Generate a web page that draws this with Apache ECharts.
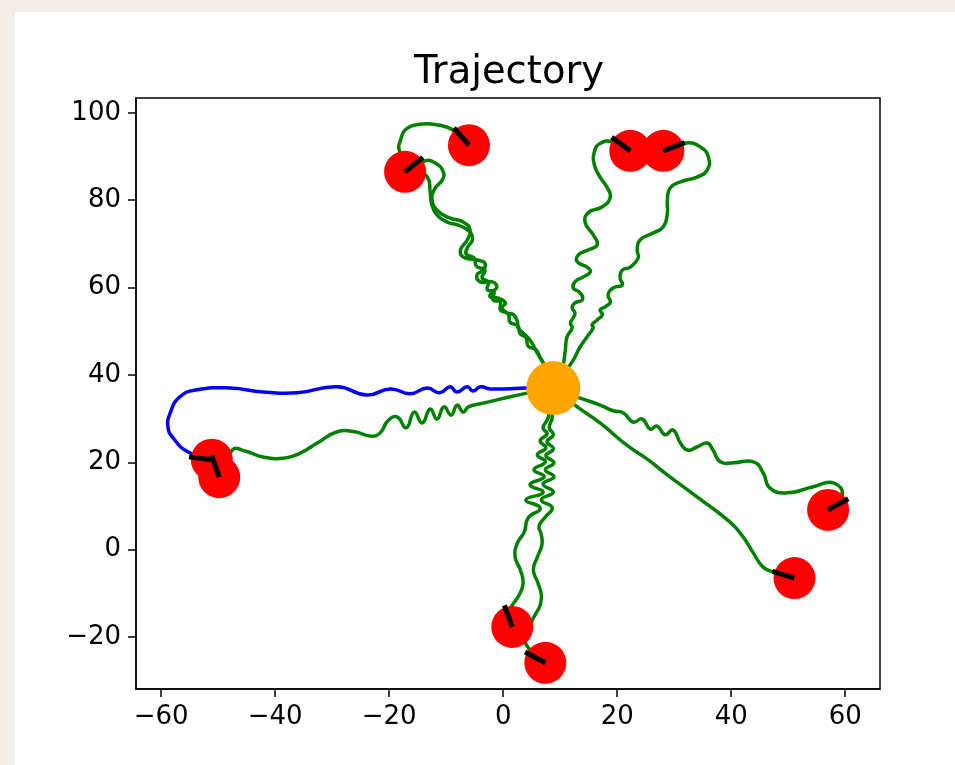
<!DOCTYPE html>
<html>
<head>
<meta charset="utf-8">
<script src="https://cdn.jsdelivr.net/npm/echarts@6/dist/echarts.min.js"></script>
<style>
  html, body { margin: 0; padding: 0; background: #f3efe7; }
  #main { width: 955px; height: 765px; }
</style>
</head>
<body>
<div id="main"></div>
<script>
// axis ticks
const xTicks = [-60, -40, -20, 0, 20, 40, 60];
const yTicks = [-20, 0, 20, 40, 60, 80, 100];

// orange centre and red robots (final positions), heading in degrees
const centre = [8.8, 37.0];
const robots = [
  [-51.1, 20.6], [-49.8, 16.6], [-17.2, 86.5], [-6.0, 92.6], [22.3, 91.3],
  [28.1, 91.3], [57.0, 9.1], [51.1, -6.5], [1.6, -17.7], [7.4, -25.9]
];
const headings = [173, 109, 39, 131, 144, 21, 29, 163, 110, 152];

// blue trajectory
const blueTrack = [
  [8.8, 37.0], [4.2, 37.0], [-2.3, 36.8], [-4.0, 37.3], [-5.3, 36.3], [-6.3, 37.3],
  [-8.1, 36.1], [-9.3, 37.3], [-11.1, 35.9], [-13.3, 37.0], [-16.3, 35.7], [-19.8, 36.8],
  [-23.9, 35.4], [-29.1, 37.3], [-36.1, 35.9], [-42.1, 36.1], [-47.9, 37.0], [-53.7, 36.6],
  [-56.7, 35.0], [-58.4, 31.3], [-58.8, 28.1], [-57.9, 25.6], [-55.3, 22.4], [-51.1, 20.6]
];

// green trajectories
const greenLeft = [
  [8.8, 37.0], [4.4, 35.9], [-1.1, 34.3], [-4.0, 33.4], [-6.1, 32.7], [-7.0, 31.5],
  [-8.1, 33.1], [-9.1, 30.8], [-10.4, 32.7], [-11.6, 29.9], [-12.8, 32.2], [-14.2, 29.0],
  [-15.6, 31.5], [-17.0, 27.9], [-18.6, 30.4], [-20.2, 29.5], [-21.6, 26.7], [-23.3, 26.0],
  [-26.0, 27.0], [-29.1, 27.0], [-32.6, 24.4], [-35.6, 22.1], [-38.2, 21.0], [-42.1, 21.2],
  [-45.3, 22.6], [-47.5, 22.8], [-49.8, 16.6]
];
const greenUpLeftA = [
  [8.8, 37.0], [7.0, 42.8], [6.0, 45.0], [4.7, 48.0], [3.5, 49.6], [2.6, 50.8],
  [2.5, 52.2], [1.8, 53.8], [0.7, 54.2], [-0.2, 55.4], [0.4, 56.5], [-0.9, 57.6],
  [-2.3, 57.9], [-1.9, 59.0], [-1.1, 60.1], [-1.9, 61.3], [-4.0, 61.3], [-4.6, 62.9],
  [-3.5, 64.0], [-3.2, 65.6], [-4.6, 66.3], [-7.0, 67.0], [-7.5, 68.6], [-6.3, 70.9],
  [-5.8, 73.2], [-7.0, 75.0], [-9.3, 75.9], [-11.6, 77.7], [-12.5, 80.5], [-11.9, 82.8],
  [-10.7, 84.6], [-10.5, 86.5], [-11.9, 88.5], [-13.7, 89.0], [-17.2, 86.5]
];
const greenUpLeftB = [
  [8.8, 37.0], [7.5, 41.6], [6.5, 43.9], [5.8, 45.7], [4.4, 46.6], [4.0, 48.5],
  [3.0, 49.4], [2.6, 51.2], [1.2, 52.1], [0.9, 53.9], [-0.5, 54.9], [-0.5, 56.7],
  [-1.8, 57.2], [-1.6, 59.0], [-2.8, 59.5], [-2.6, 61.3], [-3.7, 62.2], [-3.2, 64.0],
  [-4.7, 64.9], [-5.1, 66.8], [-6.5, 67.7], [-6.1, 69.5], [-5.4, 70.9], [-5.8, 72.7],
  [-7.5, 74.1], [-9.8, 75.0], [-11.6, 76.6], [-12.5, 78.9], [-12.8, 81.9], [-13.3, 85.3],
  [-16.0, 88.3], [-18.1, 91.0], [-17.9, 94.2], [-16.8, 96.5], [-14.6, 97.4], [-12.3, 97.4],
  [-9.8, 96.7], [-8.4, 95.6], [-6.0, 92.6]
];
const greenUpRightA = [
  [8.8, 37.0], [10.4, 41.8], [10.9, 45.7], [11.2, 48.7], [12.1, 50.8], [11.8, 51.9],
  [12.3, 53.1], [12.6, 54.2], [12.1, 55.4], [12.6, 56.5], [13.9, 57.2], [13.5, 58.8],
  [12.3, 59.9], [12.6, 61.3], [14.0, 62.4], [15.3, 63.6], [14.7, 64.7], [13.0, 65.9],
  [13.2, 67.5], [14.9, 68.6], [16.5, 69.8], [15.8, 72.1], [14.4, 74.8], [14.9, 77.1],
  [17.4, 78.5], [18.8, 80.7], [18.2, 83.0], [17.0, 85.3], [16.0, 88.1], [16.0, 91.1],
  [17.0, 93.0], [19.1, 93.4], [22.3, 91.3]
];
const greenUpRightB = [
  [8.8, 37.0], [12.1, 43.0], [13.5, 46.4], [14.7, 48.7], [15.8, 50.8], [15.6, 51.5],
  [16.5, 52.6], [17.4, 53.8], [17.0, 54.9], [17.9, 55.6], [18.8, 56.7], [18.4, 58.3],
  [19.3, 59.9], [20.9, 60.6], [20.5, 62.2], [20.9, 64.0], [22.3, 64.7], [23.7, 66.8],
  [23.5, 68.6], [24.0, 70.9], [26.3, 72.5], [28.1, 73.9], [28.8, 77.1], [28.8, 80.1],
  [29.3, 82.8], [31.1, 84.2], [34.0, 85.3], [35.8, 86.9], [36.0, 89.9], [34.6, 92.2],
  [32.1, 93.1], [28.1, 91.3]
];
const greenDownA = [
  [8.8, 37.0], [7.9, 30.2], [7.0, 27.9], [7.7, 26.5], [6.5, 24.9], [7.5, 23.3],
  [6.0, 21.7], [7.4, 20.1], [5.4, 18.3], [7.2, 16.7], [4.7, 14.9], [7.0, 13.1],
  [4.0, 11.4], [6.5, 9.5], [4.4, 7.3], [3.7, 4.0], [2.5, 1.5], [2.1, -1.7],
  [3.0, -4.6], [3.5, -7.6], [2.8, -10.4], [1.6, -12.7], [0.9, -14.5], [1.6, -17.7]
];
const greenDownB = [
  [8.8, 37.0], [8.6, 30.2], [8.1, 27.9], [8.8, 26.3], [7.7, 24.7], [8.8, 23.1],
  [7.5, 21.5], [8.9, 19.9], [7.4, 18.3], [8.9, 16.7], [7.0, 15.0], [8.8, 13.2],
  [6.7, 11.4], [8.6, 9.6], [7.4, 7.5], [6.3, 5.4], [6.7, 3.4], [6.8, 1.1],
  [6.0, -1.7], [5.3, -4.6], [6.1, -7.6], [6.7, -10.4], [6.5, -12.7], [5.4, -15.4],
  [4.4, -18.3], [3.9, -21.4], [7.4, -25.9]
];
const greenRightA = [
  [8.8, 37.0], [13.5, 34.7], [17.0, 33.1], [19.3, 31.8], [21.1, 31.3], [22.8, 29.2],
  [24.4, 29.9], [25.8, 27.6], [27.0, 28.3], [28.4, 26.3], [29.8, 27.4], [31.1, 24.4],
  [32.3, 22.8], [34.0, 23.5], [35.8, 24.4], [36.8, 22.8], [38.1, 20.1], [40.4, 19.9],
  [43.9, 20.1], [45.6, 17.6], [46.8, 14.1], [49.8, 13.0], [54.4, 14.4], [57.9, 15.3],
  [59.5, 12.5], [57.0, 9.1]
];
const greenRightB = [
  [8.8, 37.0], [13.0, 32.7], [17.0, 29.0], [21.8, 23.8], [25.4, 20.6], [28.9, 17.0],
  [34.0, 12.1], [39.8, 6.3], [42.1, 2.9], [43.9, -0.8], [45.6, -4.0], [47.4, -5.1],
  [51.1, -6.5]
];
const greenTracks = [
  greenLeft, greenUpLeftA, greenUpLeftB, greenUpRightA, greenUpRightB,
  greenDownA, greenDownB, greenRightA, greenRightB
];

const FONT = "DejaVu Sans";

// every trajectory is drawn as one smooth polyline through the axis scales
const tracks = greenTracks.concat([blueTrack]);
const trackColors = greenTracks.map(function () { return "#008000"; }).concat(["#0000ff"]);

const series = [];

series.push({
  type: "custom",
  z: 2,
  silent: true,
  data: tracks.map(function (t, i) { return [t[0][0], t[0][1], i]; }),
  renderItem: function (params, api) {
    const idx = api.value(2);
    const pts = tracks[idx].map(function (p) { return api.coord(p); });
    return {
      type: "polyline",
      shape: { points: pts, smooth: 0.5 },
      style: { stroke: trackColors[idx], lineWidth: 3.5, fill: null, lineJoin: "round" },
    };
  },
});

// red robots
series.push({
  type: "scatter",
  data: robots,
  symbolSize: 42,
  z: 3,
  itemStyle: { color: "#ff0000", opacity: 1 },
});

// heading marks
series.push({
  type: "custom",
  z: 4,
  data: robots.map(function (r, i) { return [r[0], r[1], headings[i]]; }),
  renderItem: function (params, api) {
    const p = api.coord([api.value(0), api.value(1)]);
    const a = (api.value(2) * Math.PI) / 180;
    const len = 23;
    return {
      type: "line",
      shape: { x1: p[0], y1: p[1], x2: p[0] + len * Math.cos(a), y2: p[1] - len * Math.sin(a) },
      style: { stroke: "#000000", lineWidth: 5 },
    };
  },
});

// orange centre
series.push({
  type: "scatter",
  data: [centre],
  symbolSize: 54,
  z: 5,
  itemStyle: { color: "#ffa500", opacity: 1 },
});

function tickText(v) {
  return v < 0 ? "\u2212" + Math.abs(v) : String(v);
}

const axisCommon = {
  type: "value",
  splitLine: { show: false },
  axisLine: { show: true, onZero: false, lineStyle: { color: "#000", width: 1.5 } },
  axisTick: { show: true, inside: false, length: 8, lineStyle: { color: "#000", width: 1.5 } },
  axisLabel: { color: "#000", fontFamily: FONT, fontSize: 26, margin: 15 },
};

const option = {
  animation: false,
  backgroundColor: "#ffffff",
  title: {
    text: "Trajectory",
    left: 504,
    top: 48,
    textAlign: "center",
    textStyle: { fontFamily: FONT, fontSize: 38.5, fontWeight: "normal", color: "#000" },
  },
  graphic: [
    { type: "rect", left: 0, top: 0, shape: { width: 955, height: 12 }, style: { fill: "#f3efe7" }, z: 0 },
    { type: "rect", left: 0, top: 0, shape: { width: 15, height: 765 }, style: { fill: "#f3efe7" }, z: 0 },
  ],
  grid: {
    left: 136, right: 75, top: 98, bottom: 76,
    show: true, borderColor: "#000", borderWidth: 1.5,
    outerBoundsMode: "none",
  },
  xAxis: Object.assign({}, axisCommon, {
    min: -64.4, max: 66.1,
    axisTick: Object.assign({}, axisCommon.axisTick, { customValues: xTicks }),
    axisLabel: Object.assign({}, axisCommon.axisLabel, { customValues: xTicks, formatter: tickText }),
  }),
  yAxis: Object.assign({}, axisCommon, {
    min: -31.9, max: 103.4,
    axisTick: Object.assign({}, axisCommon.axisTick, { customValues: yTicks }),
    axisLabel: Object.assign({}, axisCommon.axisLabel, { customValues: yTicks, formatter: tickText }),
  }),
  series: series,
};

const myChart = echarts.init(document.getElementById("main"));
myChart.setOption(option);
</script>
</body>
</html>
